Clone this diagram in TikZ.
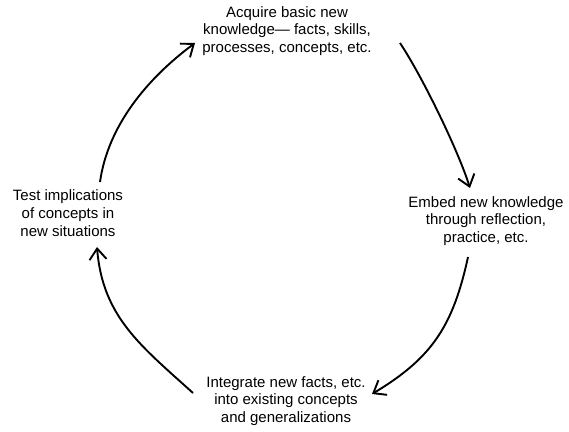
\documentclass[tikz,border=0pt]{standalone}
\usepackage{fontspec}
\setmainfont{Liberation Sans}
\usetikzlibrary{arrows.meta}
\begin{document}
\begin{tikzpicture}[x=1pt,y=-1pt,
  lbl/.style={align=center,font=\fontsize{15}{17.8}\selectfont,inner sep=0pt},
  cyc/.style={line width=1.9pt,-{Straight Barb[length=11pt,width=17pt,line width=1.9pt]}}]
\useasboundingbox[fill=white] (0,0) rectangle (569,431);
\node[lbl] (acq) at (287,31) {Acquire basic new\\knowledge--- facts, skills,\\processes, concepts, etc.};
\node[lbl] (emb) at (486,221) {Embed new knowledge\\through reflection,\\practice, etc.};
\node[lbl] (int) at (286,401) {Integrate new facts, etc.\\into existing concepts\\and generalizations};
\node[lbl] (tst) at (68,213) {Test implications\\of concepts in\\new situations};
% connector ends
\coordinate (a1s) at (100,182);
\coordinate (a1e) at (195,43);
\coordinate (a2s) at (400,43);
\coordinate (a2e) at (470,188);
\coordinate (a3s) at (468,257);
\coordinate (a3e) at (372,394);
\coordinate (a4s) at (193,393);
\coordinate (a4e) at (97,247);
\draw[cyc] (a1s) .. controls (108,125) and (148,78) .. (a1e);
\draw[cyc] (a2s) .. controls (422,76) and (458,150) .. (a2e);
\draw[cyc] (a3s) .. controls (453,326) and (432,358) .. (a3e);
\draw[cyc] (a4s) .. controls (141.2,346.1) and (102.6,317) .. (a4e);
\end{tikzpicture}
\end{document}
